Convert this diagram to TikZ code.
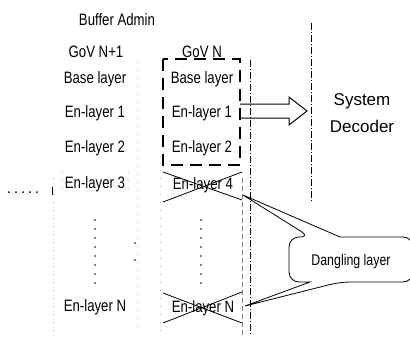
\documentclass[tikz,border=0pt]{standalone}
\usepackage{fontspec}
\setmainfont{Liberation Sans}[FakeStretch=0.8]
\newfontfamily\widefont{Liberation Sans}
\usetikzlibrary{calc}
\begin{document}
\begin{tikzpicture}[x=1pt,y=-1pt,
  lbl/.style={inner sep=0pt, font=\fontsize{16.5}{19}\selectfont},
  sdlbl/.style={inner sep=0pt, align=center, font=\widefont\fontsize{17}{27}\selectfont},
  dllbl/.style={inner sep=0pt, font=\fontsize{15.5}{18}\selectfont},
  groupbox/.style={line width=1.7pt, dash pattern=on 12pt off 7pt},
  crossline/.style={line width=0.8pt},
  dashdotline/.style={line width=0.6pt, dash pattern=on 7pt off 2pt on 1pt off 2pt},
  faintline/.style={gray!60, line width=0.5pt, dash pattern=on 1pt off 7pt},
  calloutline/.style={line width=0.8pt},
  blockarrow/.style={line width=1pt},
  dotmark/.style={fill=black}
]
\useasboundingbox (0,0) rectangle (410,340);

% faint guide lines
\draw[faintline] (53,178) -- (53,332);
\draw[faintline] (137,62) -- (137,332);
\draw[faintline] (160,170) -- (160,332);
\draw[faintline] (62,172) -- (62,196);
\draw[faintline] (128,172) -- (128,196);

% headers
\node[lbl] (title) at (117,20) {Buffer Admin};
\node[lbl] (g1) at (96,52) {GoV N+1};
\node[lbl] (g2) at (202,52) {GoV N};

% column GoV N+1
\node[lbl] (a0) at (95,79) {Base layer};
\node[lbl] (a1) at (95,113) {En-layer 1};
\node[lbl] (a2) at (95,148) {En-layer 2};
\node[lbl] (a3) at (95,184) {En-layer 3};
\node[lbl] (aN) at (95,307) {En-layer N};

% column GoV N
\node[lbl] (b0) at (202,79) {Base layer};
\node[lbl] (b1) at (202,113) {En-layer 1};
\node[lbl] (b2) at (202,148) {En-layer 2};
\node[lbl] (b4) at (203,185) {En-layer 4};
\node[lbl] (bN) at (203,308) {En-layer N};

% dashed group box
\draw[groupbox] (163,59) rectangle (240,165);

% crosses
\draw[crossline] ($(b4)+(-40,-13)$) -- ($(b4)+(39,15)$);
\draw[crossline] ($(b4)+(-40,17)$) -- ($(b4)+(39,-13)$);
\draw[crossline] ($(bN)+(-40,-15)$) -- ($(bN)+(39,15)$);
\draw[crossline] ($(bN)+(-40,15)$) -- ($(bN)+(39,-16)$);

% vertical lines
\draw[dashdotline] (311,23) -- (311,202);
\draw[dashdotline] (250,60) -- (250,335);
\draw[gray, line width=0.5pt, dash pattern=on 5pt off 3pt] (242,178) -- (242,335);

% block arrow
\draw[blockarrow] (240,104) -- (289,104) -- (289,97) -- (307,111) -- (289,125) -- (289,118) -- (240,118);

% system decoder
\node[sdlbl] (sd) at (362,113) {System\\Decoder};

% dots
\foreach \y in {220,229,238,247,256,265,274,283} {
  \fill[dotmark] (95,\y) circle (0.9pt);
  \fill[dotmark] (201,\y) circle (0.9pt);
}
\fill[dotmark] (135,243) circle (0.8pt);
\fill[dotmark] (135,260) circle (0.8pt);
\foreach \x in {9,16,23,30,37} {
  \fill[dotmark] (\x,192) circle (1pt);
}
\draw[line width=0.7pt] (52,187) -- (52,195);

% callout
\node[dllbl] (dl) at (351,261) {Dangling layer};
\coordinate (t1) at ($(b4)+(40,10)$);
\coordinate (t2) at ($(bN)+(42,-2)$);
\draw[calloutline] (289,258) [rounded corners=10pt] -- (289,237) -- (310,237) [sharp corners] -- (t1) -- (340,237)
  [rounded corners=10pt] -- (413,237) -- (413,282) -- (340,282) [sharp corners] -- (t2) -- (310,282)
  [rounded corners=10pt] -- (289,282) -- (289,258);
\end{tikzpicture}
\end{document}
